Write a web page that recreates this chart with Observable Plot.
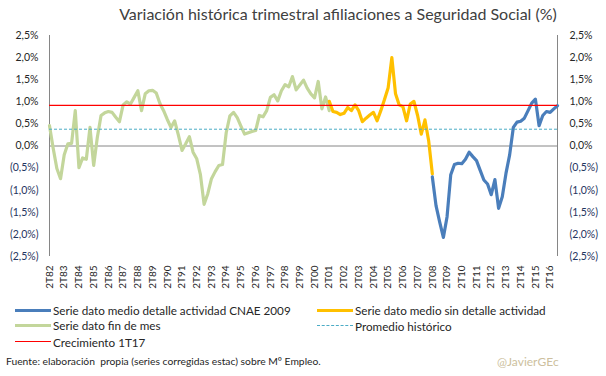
<!DOCTYPE html>
<html><head><meta charset="utf-8">
<script src="https://cdn.jsdelivr.net/npm/d3@7"></script>
<script src="https://cdn.jsdelivr.net/npm/@observablehq/plot@0.6"></script>
<style>
body{margin:0;background:#fff;font-family:Lato,"Open Sans",sans-serif;}
#wrap{position:relative;width:606px;height:376px;overflow:hidden;background:#fff;}
#title{height:26px;line-height:28px;text-align:center;font-size:16px;color:#404040;padding-left:70px;box-sizing:border-box;white-space:nowrap;}
#chart{height:274px;}
#legend{position:relative;height:76px;}
.item{position:absolute;font-size:11.7px;color:#262626;white-space:nowrap;line-height:14px;}
.sw{position:absolute;width:36px;}
#foot{position:absolute;left:6px;top:55px;font-size:10.3px;color:#262626;white-space:pre;}
#sig{position:absolute;left:497px;top:54px;font-size:12px;color:#cdbf9e;}
</style></head>
<body>
<div id="wrap">
  <div id="title">Variación histórica trimestral afiliaciones a Seguridad Social (%)</div>
  <div id="chart"></div>
  <div id="legend"></div>
</div>
<script>
// Quarter categories (2T82 ... 4T16)
const quarters = ("2T82 3T82 4T82 " +
 "1T83 2T83 3T83 4T83 1T84 2T84 3T84 4T84 1T85 2T85 3T85 4T85 1T86 2T86 3T86 4T86 " +
 "1T87 2T87 3T87 4T87 1T88 2T88 3T88 4T88 1T89 2T89 3T89 4T89 1T90 2T90 3T90 4T90 " +
 "1T91 2T91 3T91 4T91 1T92 2T92 3T92 4T92 1T93 2T93 3T93 4T93 1T94 2T94 3T94 4T94 " +
 "1T95 2T95 3T95 4T95 1T96 2T96 3T96 4T96 1T97 2T97 3T97 4T97 1T98 2T98 3T98 4T98 " +
 "1T99 2T99 3T99 4T99 1T00 2T00 3T00 4T00 1T01 2T01 3T01 4T01 1T02 2T02 3T02 4T02 " +
 "1T03 2T03 3T03 4T03 1T04 2T04 3T04 4T04 1T05 2T05 3T05 4T05 1T06 2T06 3T06 4T06 " +
 "1T07 2T07 3T07 4T07 1T08 2T08 3T08 4T08 1T09 2T09 3T09 4T09 1T10 2T10 3T10 4T10 " +
 "1T11 2T11 3T11 4T11 1T12 2T12 3T12 4T12 1T13 2T13 3T13 4T13 1T14 2T14 3T14 4T14 " +
 "1T15 2T15 3T15 4T15 1T16 2T16 3T16 4T16").split(" ");

const tickLabels = ["2T82","2T83","2T84","2T85","2T86","2T87","2T88","2T89","2T90","2T91",
 "2T92","2T93","2T94","2T95","2T96","2T97","2T98","2T99","2T00","2T01","2T02","2T03",
 "2T04","2T05","2T06","2T07","2T08","2T09","2T10","2T11","2T12","2T13","2T14","2T15","2T16"];

const yTicks = [2.5, 2.0, 1.5, 1.0, 0.5, 0.0, -0.5, -1.0, -1.5, -2.0, -2.5];

// Serie dato fin de mes: 2T82 .. 2T01
const greenStart = "2T82";
const greenValues = [0.46,-0.05,-0.51,-0.74,-0.20,0.05,0.06,0.80,-0.49,-0.27,
 -0.30,0.42,-0.44,0.20,0.69,0.75,0.78,0.76,0.65,0.55,
 0.93,1.00,0.95,1.10,1.25,0.80,1.18,1.25,1.26,1.20,
 0.96,0.80,0.60,0.42,0.57,0.25,-0.10,0.05,0.21,-0.14,
 -0.29,-0.65,-1.32,-1.08,-0.74,-0.58,-0.44,-0.42,0.30,0.68,
 0.76,0.64,0.45,0.27,0.30,0.33,0.35,0.69,0.66,0.80,
 1.10,1.16,1.02,1.25,1.39,1.34,1.57,1.27,1.38,1.49,
 1.31,1.18,1.09,1.46,0.84,1.11,0.80];

// Serie dato medio sin detalle actividad: 2T01 .. 2T08
const orangeStart = "2T01";
const orangeValues = [1.01,0.78,0.76,0.71,0.74,0.87,0.80,0.93,0.80,0.55,
 0.63,0.70,0.76,0.57,0.80,1.05,1.32,2.00,1.18,0.93,
 0.89,0.57,0.95,1.01,0.69,0.27,0.59,0.12,-0.63];

// Serie dato medio detalle actividad CNAE 2009: 2T08 .. 4T16
const blueStart = "2T08";
const blueValues = [-0.70,-1.35,-1.72,-2.07,-1.60,-0.65,-0.42,-0.39,-0.40,-0.30,
 -0.14,-0.24,-0.33,-0.55,-0.77,-0.86,-1.10,-0.76,-1.41,-1.15,
 -0.62,-0.20,0.42,0.54,0.56,0.63,0.80,0.97,1.06,0.46,
 0.69,0.78,0.76,0.84,0.91];

const promedioHistorico = 0.38;
const crecimiento1T17 = 0.92;

const seriesNames = ["Serie dato medio detalle actividad CNAE 2009","Serie dato medio sin detalle actividad",
 "Serie dato fin de mes","Promedio histórico","Crecimiento 1T17"];

const toRows = (start, vals) => {
  const i0 = quarters.indexOf(start);
  return vals.map((v, i) => ({q: quarters[i0 + i], v}));
};
const green = toRows(greenStart, greenValues);
const orange = toRows(orangeStart, orangeValues);
const blue = toRows(blueStart, blueValues);

const fmt = v => {
  const s = Math.abs(v).toFixed(1).replace(".", ",") + "%";
  return v < 0 ? "(" + s + ")" : s;
};
const posTicks = yTicks.filter(d => d >= 0);
const negTicks = yTicks.filter(d => d < 0);
const posColor = "#262626", negColor = "#1f3560";
const font = {fontFamily: "Lato, sans-serif", fontSize: 10.5};

const chart = Plot.plot({
  width: 606, height: 274,
  marginLeft: 49, marginRight: 49, marginTop: 9, marginBottom: 44,
  x: {type: "point", domain: quarters, padding: 0, axis: null},
  y: {domain: [-2.5, 2.5], axis: null},
  style: {fontFamily: "Lato, sans-serif", fontSize: "10.5px", background: "white", color: "#262626"},
  marks: [
    Plot.axisY(posTicks, {anchor: "left", label: null, tickSize: 0, tickPadding: 11, tickFormat: fmt, fill: posColor, ...font}),
    Plot.axisY(negTicks, {anchor: "left", label: null, tickSize: 0, tickPadding: 11, tickFormat: fmt, fill: negColor, ...font}),
    Plot.axisY(posTicks, {anchor: "right", label: null, tickSize: 0, tickPadding: 12, tickFormat: fmt, fill: posColor, ...font}),
    Plot.axisY(negTicks, {anchor: "right", label: null, tickSize: 0, tickPadding: 12, tickFormat: fmt, fill: negColor, ...font}),
    Plot.axisX(tickLabels, {anchor: "bottom", label: null, tickSize: 0, tickPadding: 9, tickRotate: -90, fill: "#262626", fontSize: 10, fontFamily: "Lato, sans-serif"}),
    Plot.ruleX([quarters[0], quarters[quarters.length - 1]], {y1: -2.5, y2: 2.5, stroke: "#868686", strokeWidth: 1}),
    Plot.ruleY([0], {stroke: "#868686", strokeWidth: 1}),
    Plot.lineY(green, {x: "q", y: "v", stroke: "#c3d69b", strokeWidth: 3.2, strokeLinejoin: "round"}),
    Plot.lineY(orange, {x: "q", y: "v", stroke: "#ffc000", strokeWidth: 3.2, strokeLinejoin: "round"}),
    Plot.lineY(blue, {x: "q", y: "v", stroke: "#4a7ebb", strokeWidth: 3.2, strokeLinejoin: "round"}),
    Plot.ruleY([promedioHistorico], {stroke: "#4bacc6", strokeWidth: 1, strokeDasharray: "3,2"}),
    Plot.ruleY([crecimiento1T17], {stroke: "#ff0000", strokeWidth: 1.2})
  ]
});
document.getElementById("chart").appendChild(chart);

// Legend
const legend = document.getElementById("legend");
const items = [
  {name: seriesNames[0], x: 15, y: 10, style: "height:3px;background:#4a7ebb"},
  {name: seriesNames[1], x: 317, y: 10, style: "height:3px;background:#ffc000"},
  {name: seriesNames[2], x: 15, y: 25, style: "height:3px;background:#c3d69b"},
  {name: seriesNames[3], x: 317, y: 26, style: "height:0;border-top:1px dashed #4bacc6"},
  {name: seriesNames[4], x: 15, y: 42, style: "height:1px;background:#ff0000"}
];
for (const it of items) {
  const sw = document.createElement("div");
  sw.className = "sw";
  sw.setAttribute("style", it.style + ";left:" + it.x + "px;top:" + (it.y - 1) + "px");
  legend.appendChild(sw);
  const t = document.createElement("div");
  t.className = "item";
  t.textContent = it.name;
  t.style.left = (it.x + 38) + "px";
  t.style.top = (it.y - 7) + "px";
  legend.appendChild(t);
}
const foot = document.createElement("div");
foot.id = "foot";
foot.textContent = "Fuente: elaboración  propia (series corregidas estac) sobre Mº Empleo.";
legend.appendChild(foot);
const sig = document.createElement("div");
sig.id = "sig";
sig.textContent = "@JavierGEc";
legend.appendChild(sig);
</script>
</body></html>
